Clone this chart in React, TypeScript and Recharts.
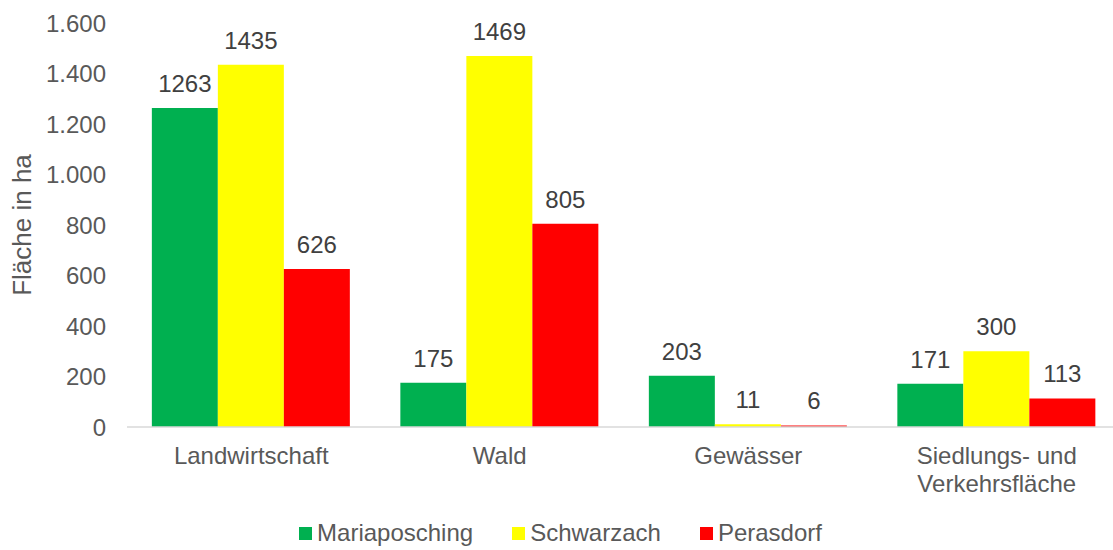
import React from "react";
import { BarChart, Bar, XAxis, YAxis, LabelList, Legend } from "recharts";

const categories = ["Landwirtschaft", "Wald", "Gewässer", "Siedlungs- und Verkehrsfläche"];
const mariaposching = [1263, 175, 203, 171];
const schwarzach = [1435, 1469, 11, 300];
const perasdorf = [626, 805, 6, 113];
const yTicks = [0, 200, 400, 600, 800, 1000, 1200, 1400, 1600];

const SERIES = [
  { key: "Mariaposching", color: "#00B050" },
  { key: "Schwarzach", color: "#FFFF00" },
  { key: "Perasdorf", color: "#FF0000" },
];

const data = categories.map((name, i) => ({
  name,
  Mariaposching: mariaposching[i],
  Schwarzach: schwarzach[i],
  Perasdorf: perasdorf[i],
}));

const FONT = "'Liberation Sans', Arial, sans-serif";
const TEXT = "#595959";

const CategoryTick = (props: any) => {
  const { x, y, payload } = props;
  const label: string = payload.value;
  const lines = label === "Siedlungs- und Verkehrsfläche" ? ["Siedlungs- und", "Verkehrsfläche"] : [label];
  return (
    <text x={x} y={y} textAnchor="middle" fill={TEXT} fontSize={24} fontFamily={FONT}>
      {lines.map((l, i) => (
        <tspan key={l} x={x} dy={i === 0 ? 29 : 28}>
          {l}
        </tspan>
      ))}
    </text>
  );
};

const LegendContent = () => (
  <div
    style={{
      display: "flex",
      justifyContent: "center",
      alignItems: "center",
      height: 30,
      gap: 39,
      fontFamily: FONT,
      fontSize: 24,
      color: TEXT,
    }}
  >
    {SERIES.map((s) => (
      <div key={s.key} style={{ display: "flex", alignItems: "center" }}>
        <span style={{ width: 13, height: 13, background: s.color, marginRight: 5, display: "inline-block" }} />
        {s.key}
      </div>
    ))}
  </div>
);

const fmt = (v: number) => v.toLocaleString("de-DE");

export default function App() {
  return (
    <div style={{ position: "absolute", left: 0, top: 0, background: "#fff" }}>
      <BarChart
        width={1122}
        height={550}
        data={data}
        margin={{ top: 23, right: 1, left: 0, bottom: 13 }}
        barCategoryGap="10%"
        barGap={0}
      >
        <XAxis
          dataKey="name"
          tickLine={false}
          axisLine={{ stroke: "#D9D9D9", strokeWidth: 1.5 }}
          tick={<CategoryTick />}
          height={80}
          interval={0}
        />
        <YAxis
          domain={[0, 1600]}
          ticks={yTicks}
          tickFormatter={fmt}
          tickLine={false}
          axisLine={false}
          width={127}
          tickMargin={15}
          tick={{ fill: TEXT, fontSize: 24, fontFamily: FONT }}
          label={{
            value: "Fläche in ha",
            angle: -90,
            position: "insideLeft",
            dx: 17,
            style: { fill: TEXT, fontSize: 26, fontFamily: FONT, textAnchor: "middle" },
          }}
        />
        <Legend verticalAlign="bottom" content={<LegendContent />} wrapperStyle={{ bottom: 2 }} />
        {SERIES.map((s) => (
          <Bar key={s.key} dataKey={s.key} fill={s.color} isAnimationActive={false}>
            <LabelList
              dataKey={s.key}
              position="top"
              offset={16}
              fill="#404040"
              fontSize={24}
              fontFamily={FONT}
            />
          </Bar>
        ))}
      </BarChart>
    </div>
  );
}
